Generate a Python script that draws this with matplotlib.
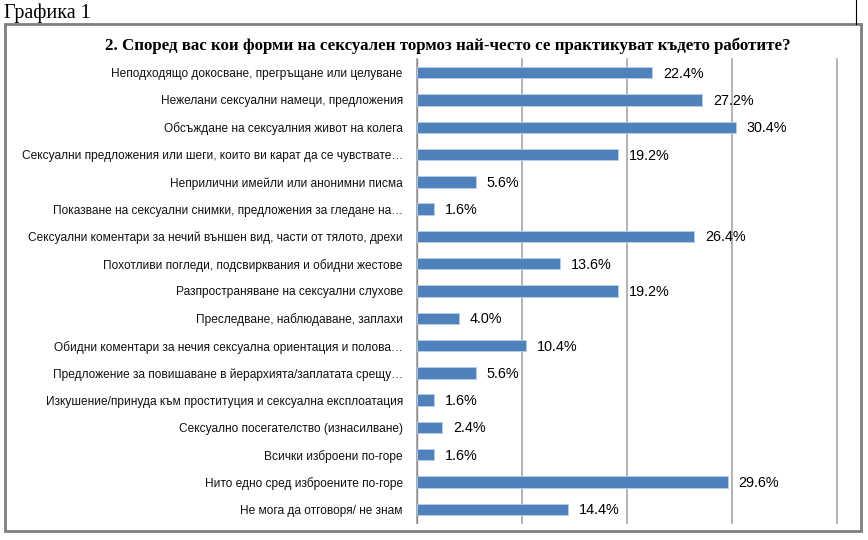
import matplotlib
matplotlib.use("Agg")
import matplotlib.pyplot as plt
from matplotlib.patches import Rectangle
from matplotlib.lines import Line2D

categories = [
    "Неподходящо докосване, прегръщане или целуване",
    "Нежелани сексуални намеци, предложения",
    "Обсъждане на сексуалния живот на колега",
    "Сексуални предложения или шеги, които ви карат да се чувствате…",
    "Неприлични имейли или анонимни писма",
    "Показване на сексуални снимки, предложения за гледане на…",
    "Сексуални коментари за нечий външен вид, части от тялото, дрехи",
    "Похотливи погледи, подсвирквания и обидни жестове",
    "Разпространяване на сексуални слухове",
    "Преследване, наблюдаване, заплахи",
    "Обидни коментари за нечия сексуална ориентация и полова…",
    "Предложение за повишаване в йерархията/заплатата срещу…",
    "Изкушение/принуда към проституция и сексуална експлоатация",
    "Сексуално посегателство (изнасилване)",
    "Всички изброени по-горе",
    "Нито едно сред изброените по-горе",
    "Не мога да отговоря/ не знам",
]
values = [22.4, 27.2, 30.4, 19.2, 5.6, 1.6, 26.4, 13.6, 19.2, 4.0, 10.4, 5.6, 1.6, 2.4, 1.6, 29.6, 14.4]
value_labels = [f"{v:.1f}%" for v in values]
grid_ticks = [0, 10, 20, 30, 40]

W, H = 868, 540
fig = plt.figure(figsize=(W / 100, H / 100), dpi=100)

def fx(px):
    return px / W

def fy(py):
    return 1 - py / H

# outer box
fig.patches.append(Rectangle((fx(5), fy(531)), fx(861) - fx(5), fy(24) - fy(531),
                             transform=fig.transFigure, fill=False,
                             edgecolor="#7f7f7f", linewidth=2))
fig.lines.append(Line2D([fx(855.5), fx(855.5)], [fy(0), fy(24)],
                        transform=fig.transFigure, color="black", linewidth=0.8))

fig.text(fx(4), fy(13), "Графика 1", family="Liberation Serif", fontsize=14.5,
         va="center", ha="left")
fig.text(fx(448), fy(46), "2. Според вас кои форми на сексуален тормоз най-често се практикуват където работите?",
         family="Liberation Serif", fontweight="bold", fontsize=12.2, va="center", ha="center")

ax = fig.add_axes([fx(416.7), fy(523), fx(836.7) - fx(416.7), fy(59) - fy(523)])
y = list(range(len(categories)))
ax.barh(y, values, height=0.42, color="#4f81bd", edgecolor="#b9cde5", linewidth=0.6, zorder=3)
ax.set_xlim(0, 40)
ax.set_ylim(len(categories) - 0.5, -0.5)
ax.set_xticks(grid_ticks)
ax.xaxis.grid(True, color="#a6a6a6", linewidth=1.2, zorder=0)
for gl in ax.get_xgridlines():
    gl.set_clip_on(False)
ax.tick_params(axis="x", which="both", length=0, labelbottom=False)
ax.set_yticks(y)
ax.set_yticklabels(categories, family="Liberation Sans", fontsize=8.6, color="#111111")
ax.tick_params(axis="y", length=0, pad=10)
for s in ["top", "right", "bottom"]:
    ax.spines[s].set_visible(False)
ax.spines["left"].set_color("#8c8c8c")
ax.spines["left"].set_linewidth(1.0)

for yi, v, lab in zip(y, values, value_labels):
    ax.annotate(lab, (v, yi), xytext=(11, -1), textcoords="offset pixels",
                va="center", ha="left", family="Liberation Sans", fontsize=10.4, color="black")

fig.savefig("out.png", dpi=100)
